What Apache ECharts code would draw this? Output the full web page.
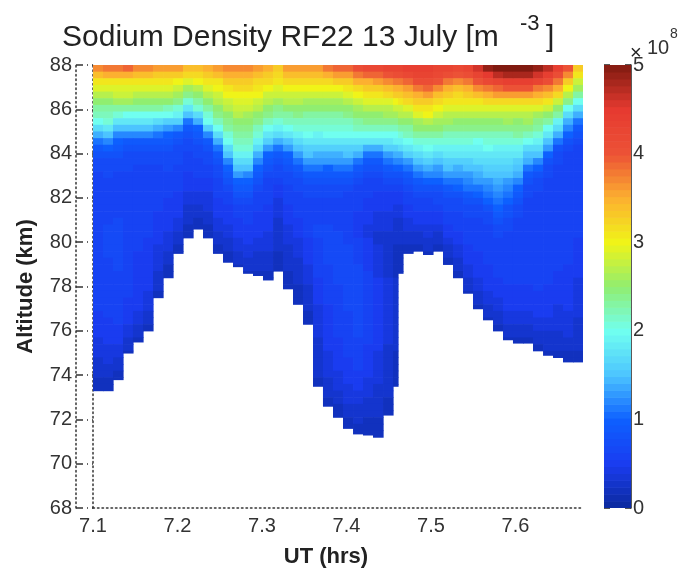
<!DOCTYPE html>
<html><head><meta charset="utf-8">
<style>html,body{margin:0;padding:0;background:#fff}#c{width:680px;height:571px}</style>
<script src="https://cdn.jsdelivr.net/npm/echarts@6/dist/echarts.min.js"></script>
</head><body><div id="c"></div>
<script>
// UT (hrs) edges of the profiles
const utEdges=[7.1,7.1118,7.1237,7.1355,7.1473,7.1592,7.1710,7.1829,7.1947,7.2065,7.2184,7.2302,7.2420,7.2539,7.2657,7.2776,7.2894,7.3012,7.3131,7.3249,7.3367,7.3486,7.3604,7.3722,7.3841,7.3959,7.4078,7.4196,7.4314,7.4433,7.4551,7.4610,7.4669,7.4788,7.4906,7.5024,7.5143,7.5261,7.5380,7.5498,7.5616,7.5735,7.5853,7.5971,7.6090,7.6208,7.6327,7.6445,7.6563,7.6682,7.68];
// lowest altitude (km) with data, one per profile
const floorKm=[73.3,73.3,73.8,75.0,75.5,76.0,77.5,78.4,79.5,80.2,80.6,80.2,79.5,79.1,78.9,78.6,78.5,78.3,78.7,77.9,77.2,76.3,73.5,72.6,72.1,71.6,71.35,71.3,71.2,72.2,73.5,78.6,79.5,79.6,79.45,79.6,79.0,78.4,77.7,77.0,76.5,76.0,75.6,75.45,75.45,75.1,74.9,74.8,74.6,74.6];
const topKm=88, rowKm=0.3;
// density in 10^7 m^-3, each profile listed from 88 km downward in 0.3 km rows
const density=[
[37,34,31,29,27,25,23,22,20,17,14,11,9,8,7,7,6,6,6,6,6,6,6,6,6,6,6,6,6,6,6,6,6,6,6,6,6,5,5,5,5,4,4,4,3,3,3,2,2],
[38,35,31,29,27,25,23,22,21,18,15,12,10,8,7,7,7,6,6,6,6,6,6,6,7,7,7,7,7,6,6,6,6,6,6,6,6,6,5,5,5,5,4,4,4,3,3,2,2],
[38,35,31,29,28,26,23,21,18,15,12,10,9,8,7,7,6,6,6,6,6,6,6,7,7,7,7,7,7,7,7,6,6,6,6,6,6,6,6,5,5,5,4,4,3,3,2,2],
[39,35,31,29,28,26,23,20,18,15,12,9,8,7,7,7,6,6,6,6,6,6,6,6,6,6,6,6,6,6,6,6,6,6,6,5,5,5,5,4,4,3,3,2],
[37,34,31,29,27,25,23,20,18,15,12,9,8,7,7,6,6,6,6,6,6,6,6,6,6,6,6,6,5,5,5,5,5,5,5,5,5,4,4,3,3,2],
[37,34,31,29,27,25,23,20,18,15,12,9,8,7,7,6,6,6,6,6,6,6,6,6,6,6,5,5,5,5,5,5,5,5,4,4,4,3,3,2],
[36,33,31,29,27,25,23,20,17,14,11,9,8,7,7,6,6,6,6,6,6,6,5,5,5,5,5,4,4,4,4,3,3,3,2],
[36,33,31,29,27,25,22,20,16,13,10,9,8,7,7,7,6,6,6,6,5,5,5,5,5,4,4,4,3,3,2,2],
[36,33,30,28,26,24,21,19,16,12,9,8,7,7,7,6,6,6,6,5,5,5,5,4,4,3,3,2,2],
[34,32,29,26,24,21,18,15,11,9,8,7,7,6,6,6,5,5,5,4,4,3,3,3,2,2],
[34,32,30,27,25,23,21,17,14,10,9,8,7,7,6,6,6,5,5,4,4,3,3,2,2],
[35,33,31,29,27,25,23,21,20,16,12,9,8,7,7,6,6,5,5,4,4,4,3,3,2,2],
[36,34,31,30,28,27,25,24,22,20,17,14,11,9,8,7,7,6,6,6,5,5,5,4,4,3,3,2,2],
[37,35,33,31,30,28,27,25,24,23,21,20,17,15,12,10,9,8,7,6,6,5,5,5,4,4,3,3,2,2],
[37,35,33,32,30,29,28,27,25,24,23,22,21,19,17,15,13,10,9,8,7,6,6,5,5,5,4,4,3,3,2],
[37,35,33,32,30,29,28,26,25,24,23,22,21,19,17,15,12,10,9,8,7,6,6,6,5,5,5,4,4,3,3,2],
[36,34,32,31,30,28,27,25,24,22,21,19,17,14,12,10,9,8,7,6,6,6,5,5,5,5,4,4,3,3,3,2],
[35,33,32,30,28,27,25,24,22,20,18,16,13,10,9,8,7,6,6,6,6,5,5,5,5,4,4,4,3,3,3,2,2],
[33,32,31,29,28,26,24,23,21,19,17,14,11,9,8,7,7,6,5,5,4,4,4,3,3,3,3,3,2,2,2],
[36,34,32,30,28,27,25,23,22,20,18,15,13,10,9,8,7,7,6,6,6,5,5,5,4,4,4,3,3,3,3,2,2,2],
[36,34,32,30,28,27,25,24,22,21,19,17,15,13,11,9,8,7,7,6,6,6,6,5,5,5,4,4,4,3,3,3,3,2,2,2],
[36,34,32,30,28,26,25,23,22,21,20,18,16,15,13,11,9,8,7,7,6,6,6,6,6,6,5,5,5,5,4,4,4,3,3,3,3,2,2],
[36,34,32,30,28,26,25,23,22,21,19,18,16,14,13,11,9,8,7,7,6,6,6,6,7,7,6,6,6,6,6,6,5,5,5,5,4,4,4,4,4,3,3,3,3,3,3,2,2],
[38,35,32,30,28,26,25,23,22,21,20,18,16,14,13,10,9,8,7,7,6,6,6,6,7,7,7,7,7,7,6,6,6,6,6,6,5,5,5,5,5,5,5,4,4,4,4,3,3,3,2,2],
[39,36,33,30,28,26,25,23,22,21,20,18,16,14,13,11,9,8,7,7,6,6,6,6,6,7,7,7,7,7,7,7,7,6,6,6,6,6,6,6,6,5,5,5,5,5,4,4,4,3,3,2,2],
[39,36,33,31,29,27,25,24,22,21,20,18,16,15,13,11,9,8,7,6,6,6,6,6,6,6,6,7,7,7,7,7,7,7,7,7,7,6,6,6,6,6,6,6,5,5,5,5,4,4,4,3,3,2,2],
[41,38,35,32,30,28,26,25,23,22,20,18,16,14,11,9,8,7,6,6,6,6,5,5,5,5,6,6,6,6,7,7,7,7,7,7,7,7,7,7,7,6,6,6,6,6,5,5,5,4,4,3,3,3,2,2],
[42,39,35,33,31,29,27,25,24,22,20,18,14,11,9,8,7,6,6,6,5,5,5,5,4,4,5,5,5,5,5,6,6,6,6,6,6,6,6,6,6,6,5,5,5,5,5,4,4,4,3,3,3,2,2,2],
[42,39,36,33,31,29,27,25,24,22,20,18,14,11,9,8,7,6,6,5,5,5,4,4,4,3,3,4,4,4,4,4,5,5,5,5,5,5,5,5,5,5,5,4,4,4,4,4,3,3,3,3,3,2,2,2],
[43,40,37,34,32,29,27,26,24,22,20,18,16,13,11,9,8,7,6,5,5,5,4,4,4,3,3,3,3,3,3,3,4,4,4,4,4,4,4,4,4,4,3,3,3,3,3,3,3,3,2,2,2],
[43,41,38,35,33,30,28,26,24,22,20,19,16,14,12,10,8,7,6,5,5,4,4,3,3,3,3,2,2,2,2,2,3,3,3,3,3,3,3,3,3,3,3,2,2,2,2,2,2],
[43,41,38,35,33,31,28,27,25,23,21,19,17,14,12,10,8,7,6,5,5,4,4,3,3,3,3,2,2,2,2,2],
[44,42,39,36,34,32,29,27,25,23,22,20,18,16,13,11,9,8,7,6,6,5,5,4,4,3,3,2,2],
[44,43,41,38,35,33,31,29,26,25,23,21,19,17,15,13,11,9,8,7,6,6,5,5,4,3,3,2],
[44,43,41,39,36,33,31,30,27,25,23,21,20,18,16,14,12,10,8,7,6,6,5,5,4,4,3,3,2],
[43,42,40,37,34,32,30,28,26,25,23,21,19,17,15,13,12,10,8,7,7,6,5,5,4,3,3,2],
[43,41,38,35,33,31,29,27,26,24,22,21,19,18,16,15,13,11,9,8,7,7,6,6,5,5,4,3,3,2],
[42,40,37,34,32,31,29,27,25,24,22,21,19,18,16,14,13,11,10,8,7,7,6,6,6,5,5,4,4,3,3,2],
[43,41,38,35,33,31,29,27,25,24,22,21,19,18,16,15,13,12,11,9,8,7,7,6,6,6,6,5,5,5,4,4,3,3,2],
[46,43,40,37,34,31,29,27,25,24,22,20,19,18,17,15,14,13,11,10,8,7,7,6,6,6,6,6,5,5,5,5,4,4,3,3,2],
[49,45,42,38,35,32,29,27,25,24,22,21,20,18,17,16,15,13,12,11,10,8,7,7,6,6,6,6,6,6,5,5,5,5,4,4,3,3,2],
[50,47,43,39,36,32,29,27,25,24,22,21,19,18,17,16,15,14,13,12,11,10,9,8,7,7,6,6,6,6,6,6,5,5,5,4,4,3,3,2],
[50,48,44,40,36,32,29,27,26,24,22,21,19,18,17,16,15,13,12,11,10,8,8,7,7,6,6,6,6,6,6,6,6,5,5,5,5,4,4,3,3,2],
[50,48,44,40,36,32,29,27,25,24,23,21,19,18,16,15,14,12,10,9,8,7,7,6,6,6,6,6,6,6,6,6,6,5,5,5,5,4,4,3,3,2],
[50,48,44,40,36,32,29,27,26,24,22,20,17,15,14,11,9,8,7,7,6,6,6,6,6,6,6,6,6,6,6,6,6,5,5,5,5,4,4,3,3,2],
[49,46,43,38,35,32,29,26,24,23,21,19,17,15,12,10,8,7,7,6,6,6,6,6,6,6,6,6,6,6,6,6,6,6,5,5,5,5,4,4,3,3,2],
[47,44,41,37,34,31,28,25,23,20,18,15,13,10,8,7,7,6,6,6,6,6,6,6,6,6,6,6,6,6,6,6,6,5,5,5,5,5,4,4,3,3,3,2],
[44,41,38,35,32,28,25,23,19,17,14,11,8,7,7,6,6,6,6,6,6,6,6,6,6,6,6,6,6,6,6,5,5,5,5,5,4,4,4,4,3,3,3,2],
[40,37,33,30,27,24,20,17,14,12,10,8,7,6,6,6,6,6,6,6,6,6,6,6,6,6,6,6,6,6,5,5,5,5,5,5,5,4,4,4,4,3,3,2,2],
[33,31,28,26,23,20,17,14,11,9,8,7,6,6,6,6,6,6,6,6,6,6,6,6,6,6,5,5,5,5,5,5,4,4,4,4,4,4,3,3,3,3,3,2,2]
];
const altTicks=[68,70,72,74,76,78,80,82,84,86,88];
const utTicks=[7.1,7.2,7.3,7.4,7.5,7.6];
const barTicks=[0,1,2,3,4,5];
const barLevelCount=64;
const palette=['#0b2a9c','#1a3cf0','#0d60ff','#4cc4ff','#70fff0','#90ee70','#f0f418','#fcb030','#ec5236','#e63a30','#801a10'];

const cells=[];
density.forEach((col,c)=>{
  const f=floorKm[c];
  col.forEach((v,r)=>{
    const top=topKm-rowKm*r;
    if(top<=f) return;
    const low=r===col.length-1?f:Math.max(f,top-rowKm);
    cells.push([utEdges[c],utEdges[c+1],top,low,v]);
  });
});
const barCells=[];
for(let i=0;i<barLevelCount;i++){
  const lo=i*5/barLevelCount, hi=(i+1)*5/barLevelCount;
  barCells.push([0,1,hi,lo,(lo+hi)*5]);
}
function cellItem(params,api){
  const a=api.coord([api.value(0),api.value(2)]);
  const b=api.coord([api.value(1),api.value(3)]);
  return {type:'rect',shape:{x:a[0],y:a[1],width:b[0]-a[0]+0.6,height:b[1]-a[1]+0.6},style:{fill:api.visual('color')}};
}
const font='"Liberation Sans",Arial,sans-serif';
const ink='#222';
const soft='#333';
const chart=echarts.init(document.getElementById('c'),null,{renderer:'canvas'});
chart.setOption({
  animation:false,
  backgroundColor:'#fff',
  textStyle:{fontFamily:font},
  title:[
    {text:'Sodium Density RF22 13 July [m',left:57,top:18,textStyle:{fontFamily:font,fontSize:30,fontWeight:'normal',color:ink}},
    {text:'-3',left:515,top:8,textStyle:{fontFamily:font,fontSize:22,fontWeight:'normal',color:ink}},
    {text:']',left:541,top:18,textStyle:{fontFamily:font,fontSize:30,fontWeight:'normal',color:ink}},
    {text:'×',left:625,top:38,textStyle:{fontFamily:font,fontSize:20,fontWeight:'normal',color:ink}},
    {text:'10',left:642,top:33,textStyle:{fontFamily:font,fontSize:20,fontWeight:'normal',color:soft}},
    {text:'8',left:665,top:22,textStyle:{fontFamily:font,fontSize:14,fontWeight:'normal',color:soft}}
  ],
  grid:[
    {left:93,top:65,width:490,height:443,outerBoundsMode:'none'},
    {left:604,top:65,width:27,height:443,outerBoundsMode:'none'}
  ],
  xAxis:[
    {type:'value',gridIndex:0,min:7.1,max:7.68,interval:0.1,
     name:'UT (hrs)',nameLocation:'middle',nameGap:38,
     nameTextStyle:{fontFamily:font,fontSize:22,fontWeight:'bold',color:ink,padding:[0,24,0,0]},
     axisLine:{show:true,onZero:false,lineStyle:{color:'#333',type:[1.5,3],width:1.5}},
     axisTick:{show:false},splitLine:{show:false},
     axisLabel:{fontFamily:font,fontSize:20,color:soft,margin:8,customValues:utTicks,formatter:v=>v.toFixed(1)}},
    {type:'value',gridIndex:1,min:0,max:1,show:false}
  ],
  yAxis:[
    {type:'value',gridIndex:0,min:68,max:88,interval:2,
     name:'Altitude (km)',nameLocation:'middle',nameGap:56,nameRotate:90,
     nameTextStyle:{fontFamily:font,fontSize:22,fontWeight:'bold',color:ink},
     axisLine:{show:true,onZero:false,lineStyle:{color:'#333',type:[1.5,3],width:1.5}},
     axisTick:{show:true,length:17,lineStyle:{color:'#333',type:[1,4,1,4,7,0],width:1.5}},
     splitLine:{show:false},
     axisLabel:{fontFamily:font,fontSize:20,color:soft,margin:21,customValues:altTicks}},
    {type:'value',gridIndex:0,min:68,max:88,interval:2,position:'left',offset:17,
     axisLine:{show:true,onZero:false,lineStyle:{color:'#333',type:[1.5,3],width:1.5}},
     axisTick:{show:false},axisLabel:{show:false},splitLine:{show:false}},
    {type:'value',gridIndex:1,min:0,max:5,interval:1,position:'right',
     axisLine:{show:true,onZero:false,lineStyle:{color:'#222',width:1.5}},
     axisTick:{show:true,inside:true,length:6,lineStyle:{color:'#222',width:1.5}},
     splitLine:{show:false},
     axisLabel:{fontFamily:font,fontSize:20,color:soft,margin:2,customValues:barTicks}},
    {type:'value',gridIndex:1,min:0,max:5,interval:1,position:'left',
     axisLine:{show:false},
     axisTick:{show:true,inside:true,length:6,lineStyle:{color:'#222',width:1.5}},
     axisLabel:{show:false},splitLine:{show:false}}
  ],
  visualMap:[{type:'continuous',show:false,min:0,max:50,dimension:4,seriesIndex:[0,1],inRange:{color:palette}}],
  series:[
    {type:'custom',xAxisIndex:0,yAxisIndex:0,renderItem:cellItem,data:cells,encode:{x:[0,1],y:[2,3]},clip:true,silent:true,z:2},
    {type:'custom',xAxisIndex:1,yAxisIndex:2,renderItem:cellItem,data:barCells,encode:{x:[0,1],y:[2,3]},clip:true,silent:true,z:2}
  ]
});
</script></body></html>
